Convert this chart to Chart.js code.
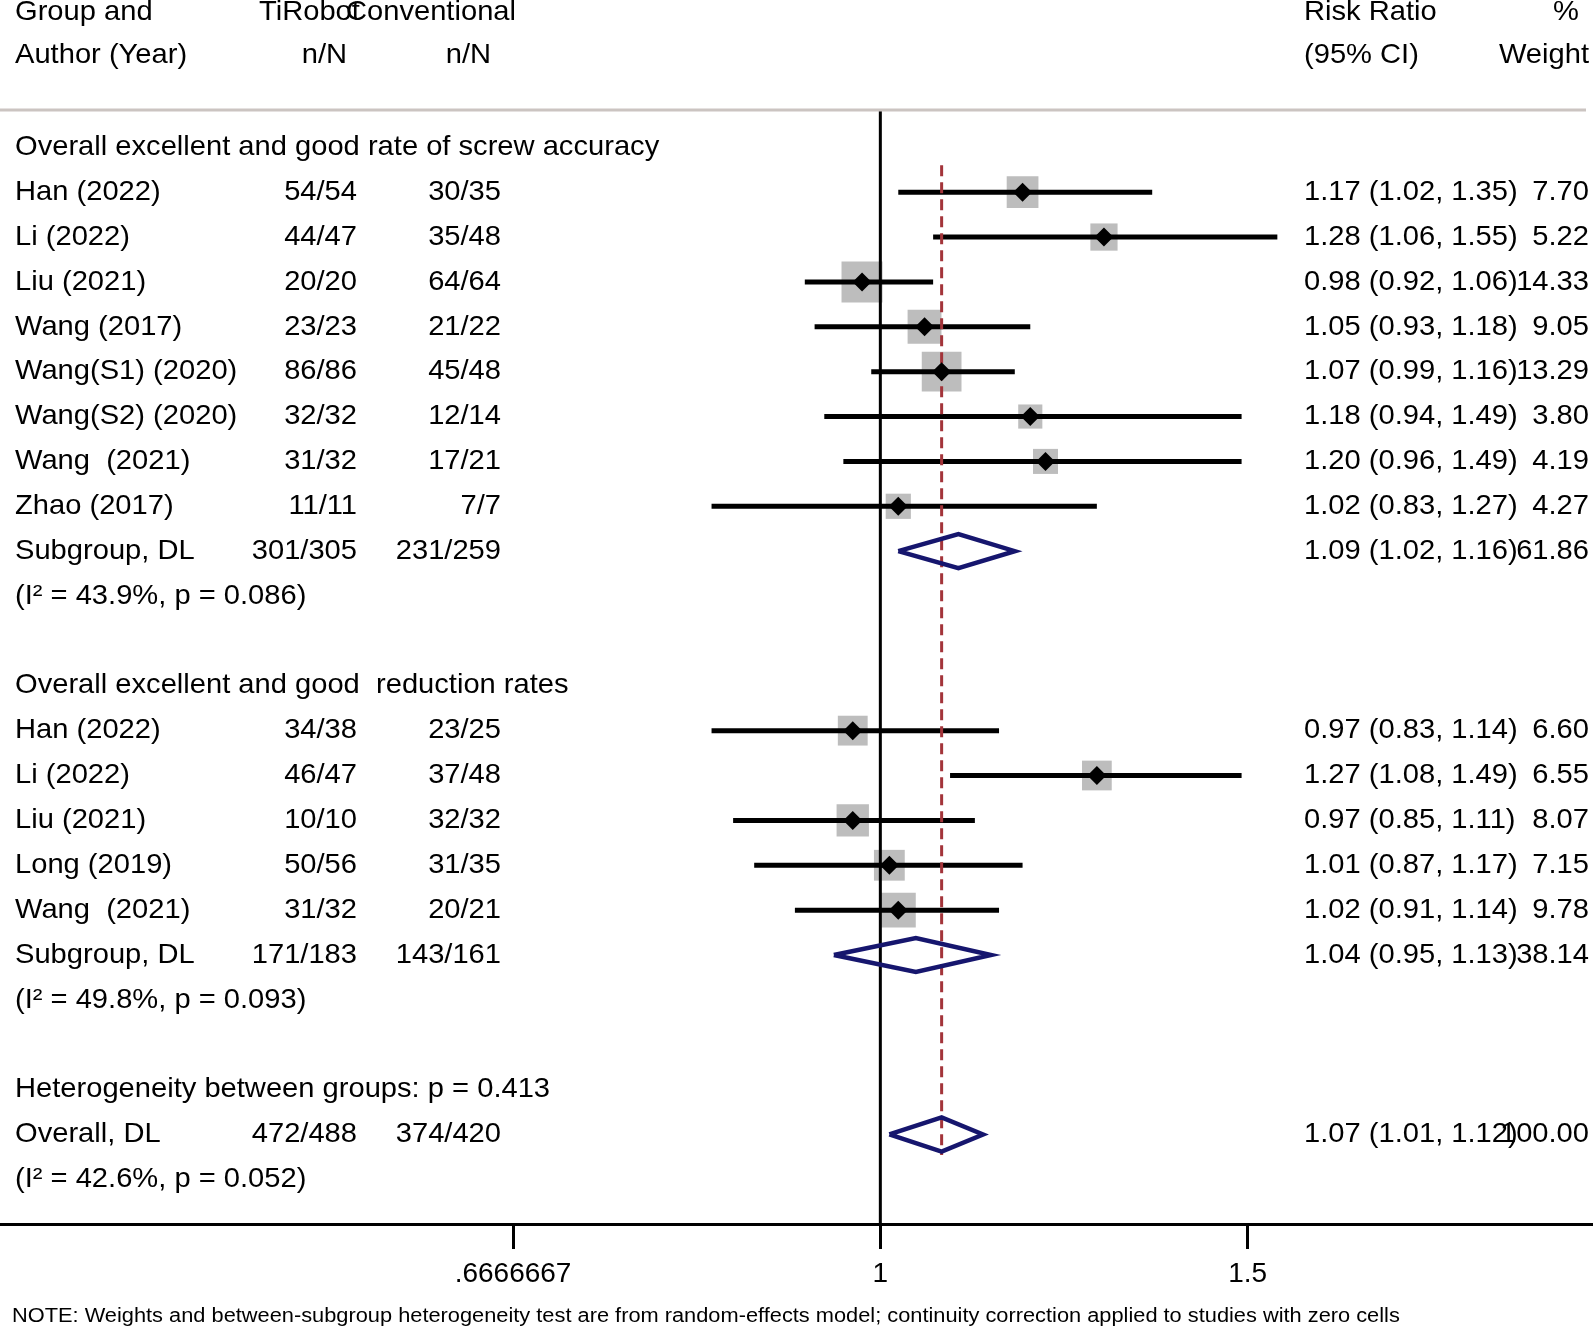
<!DOCTYPE html>
<html lang="en">
<head>
    <meta charset="UTF-8">
    <title>Forest plot - TiRobot vs Conventional</title>
    <script src="https://cdn.jsdelivr.net/npm/chart.js"></script>
    <style>
        body { margin: 0; background: #fff; }
        canvas { display: block; }
    </style>
</head>
<body>
    <canvas id="forest" width="1593" height="1330"></canvas>

    <script>
        // data
        const groupTitles = ['Overall excellent and good rate of screw accuracy', 'Overall excellent and good  reduction rates'];
        const studyGroup = [0, 0, 0, 0, 0, 0, 0, 0, 1, 1, 1, 1, 1];
        const studyNames = ['Han (2022)', 'Li (2022)', 'Liu (2021)', 'Wang (2017)', 'Wang(S1) (2020)', 'Wang(S2) (2020)', 'Wang  (2021)', 'Zhao (2017)',
                            'Han (2022)', 'Li (2022)', 'Liu (2021)', 'Long (2019)', 'Wang  (2021)'];
        const tiRobot = ['54/54', '44/47', '20/20', '23/23', '86/86', '32/32', '31/32', '11/11', '34/38', '46/47', '10/10', '50/56', '31/32'];
        const conventional = ['30/35', '35/48', '64/64', '21/22', '45/48', '12/14', '17/21', '7/7', '23/25', '37/48', '32/32', '31/35', '20/21'];
        const riskRatio = [1.17, 1.28, 0.98, 1.05, 1.07, 1.18, 1.20, 1.02, 0.97, 1.27, 0.97, 1.01, 1.02];
        const ciLow = [1.02, 1.06, 0.92, 0.93, 0.99, 0.94, 0.96, 0.83, 0.83, 1.08, 0.85, 0.87, 0.91];
        const ciHigh = [1.35, 1.55, 1.06, 1.18, 1.16, 1.49, 1.49, 1.27, 1.14, 1.49, 1.11, 1.17, 1.14];
        const weights = [7.70, 5.22, 14.33, 9.05, 13.29, 3.80, 4.19, 4.27, 6.60, 6.55, 8.07, 7.15, 9.78];

        // pooled rows: subgroup 1, subgroup 2, overall
        const pooledNames = ['Subgroup, DL', 'Subgroup, DL', 'Overall, DL'];
        const pooledTi = ['301/305', '171/183', '472/488'];
        const pooledConv = ['231/259', '143/161', '374/420'];
        const pooledRR = [1.09, 1.04, 1.07];
        const pooledLow = [1.02, 0.95, 1.01];
        const pooledHigh = [1.16, 1.13, 1.12];
        const pooledWeight = [61.86, 38.14, 100.00];
        const pooledHet = ['(I\u00B2 = 43.9%, p = 0.086)', '(I\u00B2 = 49.8%, p = 0.093)', '(I\u00B2 = 42.6%, p = 0.052)'];
        const betweenGroups = 'Heterogeneity between groups: p = 0.413';

        const tickValues = [2 / 3, 1, 1.5];
        const tickLabels = ['.6666667', '1', '1.5'];
        const noteText = 'NOTE: Weights and between-subgroup heterogeneity test are from random-effects model; continuity correction applied to studies with zero cells';

        // ---- layout ----
        const FONT = '28px "Liberation Sans", Arial, sans-serif';
        const NOTE_FONT = '20px "Liberation Sans", Arial, sans-serif';
        const STRETCH = 1.04;
        const NOTE_STRETCH = 1.09;
        const X_MIN = -0.9718, X_MAX = 0.7867;      // ln(RR) range over full width
        const Y_MIN = -3.283, Y_MAX = 23.995;       // row units, reversed
        const SEP_ROW = -0.83;
        const HEAD_ROWS = [-3.01, -2.04];
        const DIAMOND_H = 0.38;

        // assign rows
        const studyRows = [];
        const pooledRows = [];
        const titleRows = [];
        let row = 0;
        groupTitles.forEach((t, g) => {
            titleRows.push(row++);
            studyGroup.forEach((sg, i) => { if (sg === g) studyRows[i] = row++; });
            pooledRows.push(row++);
            row++;          // I² line
            row++;          // blank
        });
        const betweenRow = row++;
        pooledRows.push(row++);

        const ln = Math.log;

        // CI segments, broken with gaps
        const ciData = [];
        riskRatio.forEach((rr, i) => {
            ciData.push({ x: ln(ciLow[i]), y: studyRows[i] });
            ciData.push({ x: ln(ciHigh[i]), y: studyRows[i] });
            ciData.push({ x: null, y: null });
        });

        const squareData = riskRatio.map((rr, i) => ({ x: ln(rr), y: studyRows[i] }));
        const squareRadius = weights.map(w => (9.2 * Math.sqrt(w) + 6.2) / Math.SQRT2);

        const diamondSets = pooledRR.map((rr, i) => {
            const r = pooledRows[i];
            return {
                type: 'scatter', showLine: true, order: 1,
                data: [
                    { x: ln(pooledLow[i]), y: r },
                    { x: ln(rr), y: r - DIAMOND_H },
                    { x: ln(pooledHigh[i]), y: r },
                    { x: ln(rr), y: r + DIAMOND_H },
                    { x: ln(pooledLow[i]), y: r }
                ],
                borderColor: '#16166e', borderWidth: 4.5, pointRadius: 0, fill: false,
                borderJoinStyle: 'miter'
            };
        });

        const overallX = ln(pooledRR[2]);

        function drawText(ctx, txt, x, y, align, font, stretch) {
            ctx.save();
            ctx.font = font;
            ctx.fillStyle = '#000';
            ctx.textBaseline = 'middle';
            ctx.textAlign = align;
            ctx.translate(x, y);
            ctx.scale(stretch, 1);
            ctx.fillText(txt, 0, 0);
            ctx.restore();
        }

        const textColumns = {
            id: 'textColumns',
            afterDraw(chart) {
                const ctx = chart.ctx;
                const ys = chart.scales.y;
                const py = r => ys.getPixelForValue(r);

                // header
                drawText(ctx, 'Group and', 15, py(HEAD_ROWS[0]), 'left', FONT, STRETCH);
                drawText(ctx, 'Author (Year)', 15, py(HEAD_ROWS[1]), 'left', FONT, STRETCH);
                drawText(ctx, 'TiRobot', 259, py(HEAD_ROWS[0]), 'left', FONT, STRETCH);
                drawText(ctx, 'Conventional', 346, py(HEAD_ROWS[0]), 'left', FONT, STRETCH);
                drawText(ctx, 'n/N', 347, py(HEAD_ROWS[1]), 'right', FONT, STRETCH);
                drawText(ctx, 'n/N', 491, py(HEAD_ROWS[1]), 'right', FONT, STRETCH);
                drawText(ctx, 'Risk Ratio', 1304, py(HEAD_ROWS[0]), 'left', FONT, STRETCH);
                drawText(ctx, '(95% CI)', 1304, py(HEAD_ROWS[1]), 'left', FONT, STRETCH);
                drawText(ctx, '%', 1579, py(HEAD_ROWS[0]), 'right', FONT, STRETCH);
                drawText(ctx, 'Weight', 1589, py(HEAD_ROWS[1]), 'right', FONT, STRETCH);

                // separator under header
                ctx.save();
                ctx.strokeStyle = '#cbc4c1';
                ctx.lineWidth = 3;
                ctx.beginPath();
                ctx.moveTo(0, py(SEP_ROW));
                ctx.lineTo(1586, py(SEP_ROW));
                ctx.stroke();
                ctx.restore();

                groupTitles.forEach((t, g) => drawText(ctx, t, 15, py(titleRows[g]), 'left', FONT, STRETCH));

                studyNames.forEach((n, i) => {
                    const y = py(studyRows[i]);
                    drawText(ctx, n, 15, y, 'left', FONT, STRETCH);
                    drawText(ctx, tiRobot[i], 357, y, 'right', FONT, STRETCH);
                    drawText(ctx, conventional[i], 501, y, 'right', FONT, STRETCH);
                    drawText(ctx, riskRatio[i].toFixed(2) + ' (' + ciLow[i].toFixed(2) + ', ' + ciHigh[i].toFixed(2) + ')', 1304, y, 'left', FONT, STRETCH);
                    drawText(ctx, weights[i].toFixed(2), 1589, y, 'right', FONT, STRETCH);
                });

                pooledNames.forEach((n, i) => {
                    const y = py(pooledRows[i]);
                    drawText(ctx, n, 15, y, 'left', FONT, STRETCH);
                    drawText(ctx, pooledTi[i], 357, y, 'right', FONT, STRETCH);
                    drawText(ctx, pooledConv[i], 501, y, 'right', FONT, STRETCH);
                    drawText(ctx, pooledRR[i].toFixed(2) + ' (' + pooledLow[i].toFixed(2) + ', ' + pooledHigh[i].toFixed(2) + ')', 1304, y, 'left', FONT, STRETCH);
                    drawText(ctx, pooledWeight[i].toFixed(2), 1589, y, 'right', FONT, STRETCH);
                    drawText(ctx, pooledHet[i], 15, py(pooledRows[i] + 1), 'left', FONT, STRETCH);
                });

                drawText(ctx, betweenGroups, 15, py(betweenRow), 'left', FONT, STRETCH);

                drawText(ctx, noteText, 12, 1316, 'left', NOTE_FONT, NOTE_STRETCH);
            }
        };

        const ctx = document.getElementById('forest').getContext('2d');
        const chart = new Chart(ctx, {
            type: 'scatter',
            data: {
                datasets: [
                    {   // gray weight boxes
                        data: squareData, order: 6,
                        pointStyle: 'rect', pointRadius: squareRadius,
                        backgroundColor: '#bdbdbd', borderWidth: 0
                    },
                    {   // line of no effect
                        data: [{ x: 0, y: SEP_ROW }, { x: 0, y: Y_MAX }], order: 5,
                        showLine: true, borderColor: '#000', borderWidth: 3, pointRadius: 0
                    },
                    {   // confidence intervals
                        data: ciData, order: 4,
                        showLine: true, spanGaps: false, borderColor: '#000', borderWidth: 5, pointRadius: 0
                    },
                    {   // overall estimate
                        data: [{ x: overallX, y: studyRows[0] - 0.6 }, { x: overallX, y: pooledRows[2] + 0.46 }], order: 3,
                        showLine: true, borderColor: '#a3343a', borderWidth: 3, borderDash: [11, 6], pointRadius: 0
                    },
                    {   // point estimates
                        data: squareData, order: 2,
                        pointStyle: 'rectRot', pointRadius: 9.5,
                        backgroundColor: '#000', borderColor: '#000', borderWidth: 0
                    },
                    ...diamondSets
                ]
            },
            options: {
                responsive: false,
                animation: false,
                events: [],
                layout: { padding: 0, autoPadding: false },
                plugins: { legend: { display: false }, tooltip: { enabled: false } },
                scales: {
                    x: {
                        type: 'linear', position: 'bottom',
                        min: X_MIN, max: X_MAX,
                        afterFit: s => { s.height = 106; },
                        afterBuildTicks: s => { s.ticks = tickValues.map(v => ({ value: Math.log(v) })); },
                        ticks: {
                            autoSkip: false, maxRotation: 0, padding: 8, color: '#000',
                            font: { family: '"Liberation Sans", Arial, sans-serif', size: 28 },
                            callback: (v, i) => tickLabels[i]
                        },
                        grid: { drawOnChartArea: false, drawTicks: true, tickLength: 25, tickWidth: 3, tickColor: '#000' },
                        border: { display: true, width: 3, color: '#000' }
                    },
                    y: { type: 'linear', reverse: true, min: Y_MIN, max: Y_MAX, display: false }
                }
            },
            plugins: [textColumns]
        });
    </script>
</body>
</html>
